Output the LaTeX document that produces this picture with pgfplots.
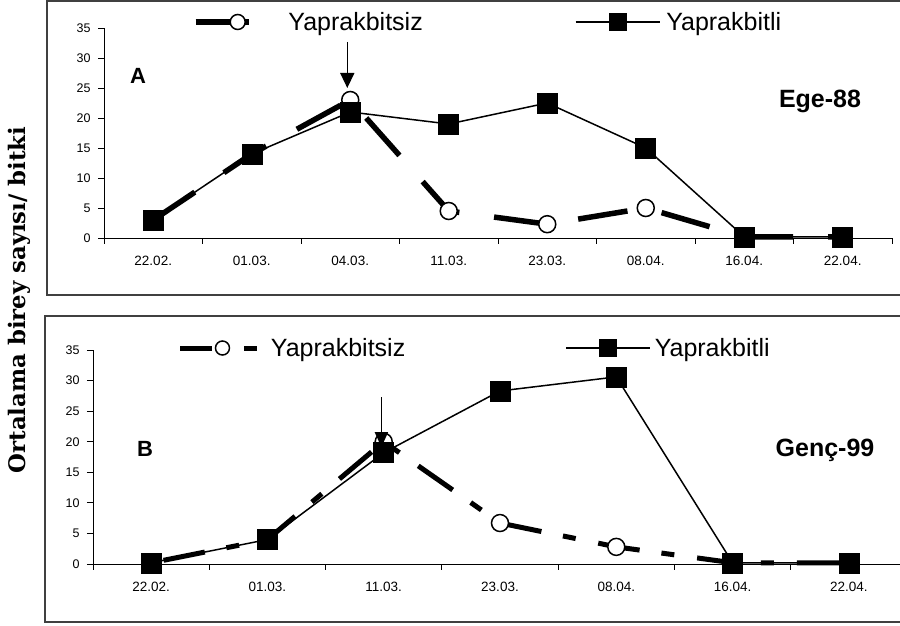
\documentclass[border=0pt]{standalone}
\usepackage{fontspec}
\setmainfont{Liberation Sans}
\newfontfamily\ylabfont{DejaVu Serif}
\usepackage{pgfplots}
\usepackage{pgfplotstable}
\pgfplotsset{compat=1.18}
\usetikzlibrary{arrows.meta}

\pgfplotstableread{
x a b
0 3 3
1 14 14
2 23 21
3 4.5 19
4 2.3 22.5
5 5 15
6 0.2 0.2
7 0.2 0.2
}\topdata

\pgfplotstableread{
x a b
0 0.2 0.2
1 4 4
2 20 18.2
3 6.7 28.3
4 2.8 30.6
5 0.2 0.2
6 0.2 0.2
}\botdata

\pgfplotsset{
  myaxis/.style={
    scale only axis, xmin=-0.5, ymin=0, ymax=35,
    axis lines*=left,
    axis line style={black, line width=0.9pt},
    tick style={black, line width=0.9pt},
    tick align=outside, major tick length=6pt,
    ytick={0,5,...,35},
    yticklabel style={font=\fontsize{12.5}{14}\selectfont, xshift=-4pt},
    xticklabel style={font=\fontsize{13.5}{15}\selectfont, yshift=-15pt},
    /pgf/number format/assume math mode=true,
    clip=false, xticklabels={},
    legend cell align=left,
  },
  sqplot/.style={black, line width=1.5pt, mark=square*, mark size=10pt,
    mark options={solid, fill=black, line width=0.5pt}},
  legtopdash/.style={legend image code/.code={\draw[mark repeat=2,mark phase=2,##1,dash pattern=on 37pt off 10pt on 6pt off 40pt, mark size=7.5pt] plot coordinates {(0pt,0pt) (42pt,0pt) (84pt,0pt)};}},
  legbotdash/.style={legend image code/.code={\draw[mark repeat=2,mark phase=2,##1,dash pattern=on 32pt off 32pt on 13pt off 20pt, dash phase=0pt, mark size=7pt] plot coordinates {(0pt,0pt) (42pt,0pt) (84pt,0pt)};}},
  legsq/.style={legend image code/.code={\draw[mark repeat=2,mark phase=2,##1, mark size=8.5pt] plot coordinates {(0pt,0pt) (42pt,0pt) (84pt,0pt)};}},
}

\begin{document}
\begin{tikzpicture}
\path[use as bounding box] (0,0) rectangle (900pt,626pt);
\clip (0,0) rectangle (900pt,626pt);

% frames
\draw[line width=1.5pt, black!75] (47pt,331pt) rectangle (920pt,625pt);
\draw[line width=1.5pt, black!75] (45pt,4pt) rectangle (920pt,310pt);

% y label
\node[rotate=90, anchor=base, font=\ylabfont\bfseries\fontsize{22.8}{26}\selectfont] at (25pt,326pt) {Ortalama birey sayısı/ bitki};

% ---------- Top panel ----------
\begin{axis}[myaxis,
  at={(104pt,388pt)}, anchor=south west,
  width=788pt, height=210pt, xmax=7.5,
  xtick={-0.5,0.5,...,7.5},
  extra x ticks={0,1,2,3,4,5,6,7},
  extra x tick labels={22.02.,01.03.,04.03.,11.03.,23.03.,08.04.,16.04.,22.04.},
  extra x tick style={major tick length=0pt},
  legend columns=2,
  legend style={at={(axis description cs:0.1129,1.0286)}, anchor=west,
    draw=none, fill=none, inner sep=0pt, outer sep=0pt,
    nodes={inner sep=0pt, font=\fontsize{25}{30}\selectfont},
    /tikz/every odd column/.append style={column sep=6pt},
    /tikz/every even column/.append style={column sep=152pt}},
]
\addplot[black, line width=5.5pt, dash pattern=on 50pt off 35pt,
  mark=*, mark size=8.5pt, mark options={solid, fill=white, line width=1.5pt},
  legtopdash]
  table[x=x, y=a] {\topdata};
\addlegendentry{Yaprakbitsiz}
\addplot[sqplot, legsq]
  table[x=x, y=b] {\topdata};
\addlegendentry{Yaprakbitli}
\coordinate (tA1) at (axis cs:1.97,32.7);
\coordinate (tA2) at (axis cs:1.97,25);
\end{axis}

\draw[line width=1.5pt, -{Triangle[width=14pt,length=15pt]}] (tA1) -- (tA2);
\node[anchor=base, font=\bfseries\fontsize{22}{26}\selectfont] at (138pt,542pt) {A};
\node[anchor=base, font=\bfseries\fontsize{25}{30}\selectfont] at (820pt,518pt) {Ege-88};

% ---------- Bottom panel ----------
\begin{axis}[myaxis,
  at={(93pt,62pt)}, anchor=south west,
  width=814pt, height=214pt, xmax=6.5,
  xtick={-0.5,0.5,...,6.5},
  extra x ticks={0,1,2,3,4,5,6},
  extra x tick labels={22.02.,01.03.,11.03.,23.03.,08.04.,16.04.,22.04.},
  extra x tick style={major tick length=0pt},
  legend columns=2,
  legend style={at={(axis description cs:0.1044,1.0093)}, anchor=west,
    draw=none, fill=none, inner sep=0pt, outer sep=0pt,
    nodes={inner sep=0pt, font=\fontsize{25}{30}\selectfont},
    /tikz/every odd column/.append style={column sep=4pt},
    /tikz/every even column/.append style={column sep=160pt}},
]
\addplot[black, line width=5pt, dash pattern=on 42pt off 22pt on 13pt off 23pt, dash phase=87.3pt,
  mark=*, mark size=8.5pt, mark options={solid, fill=white, line width=1.5pt},
  legbotdash]
  table[x=x, y=a] {\botdata};
\addlegendentry{Yaprakbitsiz}
\addplot[sqplot, legsq]
  table[x=x, y=b] {\botdata};
\addlegendentry{Yaprakbitli}
\coordinate (bA1) at (axis cs:1.98,27.3);
\coordinate (bA2) at (axis cs:1.98,19.1);
\end{axis}

\draw[line width=1.5pt, -{Triangle[width=13pt,length=15pt]}] (bA1) -- (bA2);
\node[anchor=base, font=\bfseries\fontsize{22}{26}\selectfont] at (145pt,169pt) {B};
\node[anchor=base, font=\bfseries\fontsize{25}{30}\selectfont] at (825pt,169pt) {Genç-99};
\end{tikzpicture}
\end{document}
